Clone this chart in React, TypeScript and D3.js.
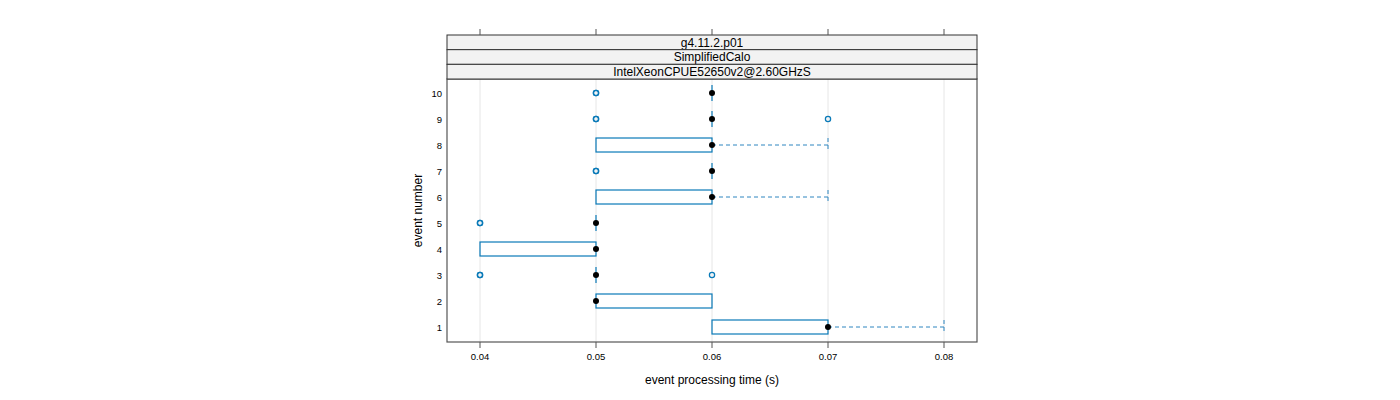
import React from "react";
import * as d3 from "d3";

const events = [1, 2, 3, 4, 5, 6, 7, 8, 9, 10];
// [lower whisker, q1, median, q3, upper whisker]
const stats: number[][] = [
  [0.06, 0.06, 0.07, 0.07, 0.08],
  [0.05, 0.05, 0.05, 0.06, 0.06],
  [0.05, 0.05, 0.05, 0.05, 0.05],
  [0.04, 0.04, 0.05, 0.05, 0.05],
  [0.05, 0.05, 0.05, 0.05, 0.05],
  [0.05, 0.05, 0.06, 0.06, 0.07],
  [0.06, 0.06, 0.06, 0.06, 0.06],
  [0.05, 0.05, 0.06, 0.06, 0.07],
  [0.06, 0.06, 0.06, 0.06, 0.06],
  [0.06, 0.06, 0.06, 0.06, 0.06],
];
const outliers: number[][] = [
  [],
  [],
  [0.04, 0.04, 0.06],
  [],
  [0.04, 0.04],
  [],
  [0.05, 0.05],
  [],
  [0.05, 0.05, 0.07],
  [0.05, 0.05],
];
const xTicks = [0.04, 0.05, 0.06, 0.07, 0.08];
const strips = ["g4.11.2.p01", "SimplifiedCalo", "IntelXeonCPUE52650v2@2.60GHzS"];

const BLUE = "#0a7ab8";
const WHISK = "#2f86c0";

export default function App() {
  const left = 447, right = 977;
  const stripTop = 35, stripH = 14.67;
  const top = stripTop + stripH * 3, bottom = 342;
  const x = d3.scaleLinear().domain([0.04 - 33 / 11600, 0.08 + 33 / 11600]).range([left, right]);
  const y = d3.scaleLinear().domain([0.5, 10.5]).range([bottom - 1.5, top + 1.5]);
  const bh = 14;
  const font = "Liberation Sans, Arial, sans-serif";

  return (
    <svg width={1400} height={400} style={{ display: "block", position: "absolute", left: 0, top: 0 }} fontFamily={font}>
      {/* grid */}
      {xTicks.map((t) => (
        <line key={"g" + t} x1={x(t)} x2={x(t)} y1={top} y2={bottom} stroke="#e6e6e6" strokeWidth={1} />
      ))}
      {/* boxes */}
      {events.map((e, i) => {
        const [lo, q1, med, q3, hi] = stats[i];
        const cy = y(e) - 0.5;
        return (
          <g key={"b" + e}>
            {hi > q3 && (
              <>
                <line x1={x(q3)} x2={x(hi)} y1={cy} y2={cy} stroke={WHISK} strokeDasharray="4,3" strokeWidth={1} />
                <line x1={x(hi)} x2={x(hi)} y1={cy - bh / 2} y2={cy + bh / 2} stroke={WHISK} strokeDasharray="4,3" strokeWidth={1} />
              </>
            )}
            {lo < q1 && (
              <>
                <line x1={x(lo)} x2={x(q1)} y1={cy} y2={cy} stroke={WHISK} strokeDasharray="4,3" strokeWidth={1} />
                <line x1={x(lo)} x2={x(lo)} y1={cy - bh / 2} y2={cy + bh / 2} stroke={WHISK} strokeDasharray="4,3" strokeWidth={1} />
              </>
            )}
            <rect x={x(q1)} y={cy - bh / 2} width={Math.max(0, x(q3) - x(q1))} height={bh} fill="none" stroke={BLUE} strokeWidth={1.2} />
            {q3 === q1 && (
              <line x1={x(q1)} x2={x(q1)} y1={cy - bh / 2 - 1} y2={cy + bh / 2 + 1} stroke={BLUE} strokeWidth={1.2} />
            )}
            {outliers[i].map((o, j) => (
              <circle key={j} cx={x(o)} cy={cy} r={2.6} fill="none" stroke={BLUE} strokeWidth={1.3} />
            ))}
            <circle cx={x(med)} cy={cy} r={3} fill="#000" />
          </g>
        );
      })}
      {/* panel frame */}
      <rect x={left} y={top} width={right - left} height={bottom - top} fill="none" stroke="#555" strokeWidth={1.2} />
      {/* strips */}
      {strips.map((s, k) => {
        const sy = stripTop + stripH * k;
        return (
          <g key={s}>
            <rect x={left} y={sy} width={right - left} height={stripH} fill="#f2f2f2" stroke="#333" strokeWidth={1} />
            <text x={(left + right) / 2} y={sy + stripH / 2 + 4.3} textAnchor="middle" fontSize={12} fill="#000">{s}</text>
          </g>
        );
      })}
      {/* x ticks */}
      {xTicks.map((t) => (
        <g key={"t" + t}>
          <line x1={x(t)} x2={x(t)} y1={bottom} y2={bottom + 6} stroke="#555" />
          <line x1={x(t)} x2={x(t)} y1={stripTop - 6} y2={stripTop} stroke="#555" />
          <text x={x(t)} y={bottom + 18} textAnchor="middle" fontSize={9.5} fill="#000">{t.toFixed(2)}</text>
        </g>
      ))}
      {/* y labels */}
      {events.map((e) => (
        <text key={"y" + e} x={left - 5} y={y(e) + 3} textAnchor="end" fontSize={9.5} fill="#000">{e}</text>
      ))}
      <text x={(left + right) / 2} y={384} textAnchor="middle" fontSize={12} fill="#000">event processing time (s)</text>
      <text transform={`translate(422,${(top + bottom) / 2}) rotate(-90)`} textAnchor="middle" fontSize={12} fill="#000">event number</text>
    </svg>
  );
}
